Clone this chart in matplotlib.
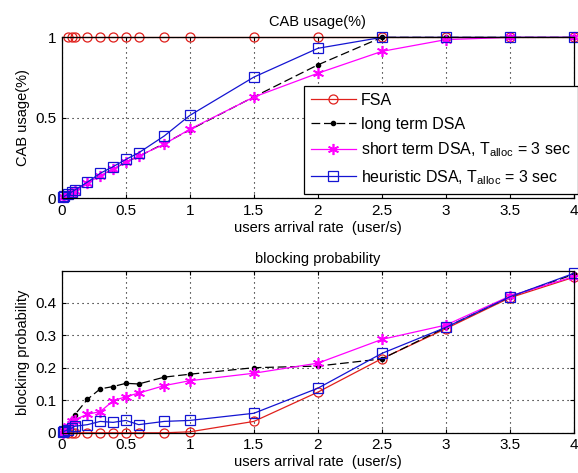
import matplotlib
matplotlib.use("Agg")
import matplotlib.pyplot as plt

plt.rcParams['font.family'] = ['Liberation Sans', 'DejaVu Sans']
plt.rcParams['mathtext.fontset'] = 'custom'
plt.rcParams['mathtext.rm'] = 'Liberation Sans'
plt.rcParams['mathtext.it'] = 'Liberation Sans'

# arrival rates (user/s)
rate = [0.01, 0.02, 0.05, 0.08, 0.1, 0.2, 0.3, 0.4, 0.5, 0.6, 0.8, 1.0,
        1.5, 2.0, 2.5, 3.0, 3.5, 4.0]
rate_fsa = rate[2:]

# CAB usage
usage_fsa = [1.0] * len(rate_fsa)
usage_long = [0.005, 0.01, 0.02, 0.035, 0.045, 0.097, 0.14, 0.18, 0.225,
              0.26, 0.34, 0.425, 0.63, 0.829, 1.0, 1.0, 1.0, 1.0]
usage_short = [0.005, 0.01, 0.02, 0.035, 0.045, 0.095, 0.14, 0.181, 0.226,
               0.262, 0.336, 0.429, 0.629, 0.777, 0.913, 0.986, 1.0, 1.0]
usage_heur = [0.005, 0.012, 0.025, 0.04, 0.05, 0.1, 0.155, 0.196, 0.241,
              0.282, 0.387, 0.515, 0.753, 0.932, 1.0, 1.0, 1.0, 1.0]

# blocking probability
block_fsa = [0.0, 0.0, 0.0, 0.0, 0.0, 0.0, 0.0, 0.0, 0.0, 0.003, 0.035,
             0.125, 0.228, 0.32, 0.415, 0.478]
block_long = [0.0, 0.005, 0.02, 0.04, 0.055, 0.103, 0.135, 0.142, 0.152,
              0.15, 0.171, 0.18, 0.2, 0.205, 0.227, 0.324, 0.418, 0.487]
block_short = [0.0, 0.005, 0.02, 0.035, 0.04, 0.057, 0.065, 0.098, 0.111,
               0.122, 0.145, 0.16, 0.183, 0.214, 0.287, 0.331, 0.42, 0.48]
block_heur = [0.002, 0.005, 0.01, 0.015, 0.02, 0.025, 0.035, 0.032, 0.038,
              0.025, 0.035, 0.038, 0.06, 0.137, 0.244, 0.324, 0.418, 0.49]

labels = ['FSA', 'long term DSA',
          r'short term DSA, T$_{\mathrm{alloc}}$ = 3 sec',
          r'heuristic DSA, T$_{\mathrm{alloc}}$ = 3 sec']

xticks = [0, 0.5, 1, 1.5, 2, 2.5, 3, 3.5, 4]
xticklabels = ['0', '0.5', '1', '1.5', '2', '2.5', '3', '3.5', '4']

RED = '#e0201c'
MAG = '#ff00ff'
BLUE = '#1414d2'
STAR = (6, 2, 0)

fig = plt.figure(figsize=(5.78, 4.73), dpi=100)
ax1 = fig.add_axes([0.107, 0.581, 0.886, 0.340])
ax2 = fig.add_axes([0.107, 0.085, 0.886, 0.342])


def draw(ax, fsa, long_, short, heur):
    ax.plot(rate_fsa, fsa, color=RED, lw=0.9, marker='o', ms=6.5,
            mfc='none', mec=RED, mew=0.9, label=labels[0])
    ax.plot(rate, long_, color='black', lw=0.9, ls=(0, (7, 3)), marker='.',
            ms=6, label=labels[1])
    ax.plot(rate, short, color=MAG, lw=0.9, marker=STAR, ms=8, mew=1.2,
            label=labels[2])
    ax.plot(rate, heur, color=BLUE, lw=0.9, marker='s', ms=7, mfc='none',
            mec=BLUE, mew=0.9, label=labels[3])
    ax.set_xlim(0, 4)
    ax.set_xticks(xticks)
    ax.set_xticklabels(xticklabels)
    ax.grid(True, color='black', ls=(0, (1, 3.5)), lw=0.8)
    ax.tick_params(direction='in', length=3, labelsize=11, top=True,
                   right=True, pad=4)
    for s in ax.spines.values():
        s.set_linewidth(0.9)
    ax.set_xlabel('users arrival rate  (user/s)', fontsize=10.5, labelpad=2)


draw(ax1, usage_fsa, usage_long, usage_short, usage_heur)
ax1.set_ylim(0, 1)
ax1.set_yticks([0, 0.5, 1])
ax1.set_yticklabels(['0', '0.5', '1'])
ax1.set_ylabel('CAB usage(%)', fontsize=10.5, labelpad=4)
ax1.set_title('CAB usage(%)', fontsize=10.5, pad=8)
for line in ax1.lines:
    line.set_clip_on(False)

draw(ax2, block_fsa, block_long, block_short, block_heur)
ax2.set_ylim(0, 0.497)
ax2.set_yticks([0, 0.1, 0.2, 0.3, 0.4])
ax2.set_yticklabels(['0', '0.1', '0.2', '0.3', '0.4'])
ax2.set_ylabel('blocking probability', fontsize=10.5, labelpad=4)
ax2.set_title('blocking probability', fontsize=10.5, pad=6)
for line in ax2.lines:
    line.set_clip_on(False)

leg = ax1.legend(loc='lower right', bbox_to_anchor=(1.008, 0.027),
                 fontsize=11.5, frameon=True, fancybox=False,
                 edgecolor='black', framealpha=1, borderpad=0.45,
                 labelspacing=0.55, handlelength=2.8, handletextpad=0.35,
                 borderaxespad=0)
leg.get_frame().set_linewidth(0.9)

fig.savefig('out.png', dpi=100)
